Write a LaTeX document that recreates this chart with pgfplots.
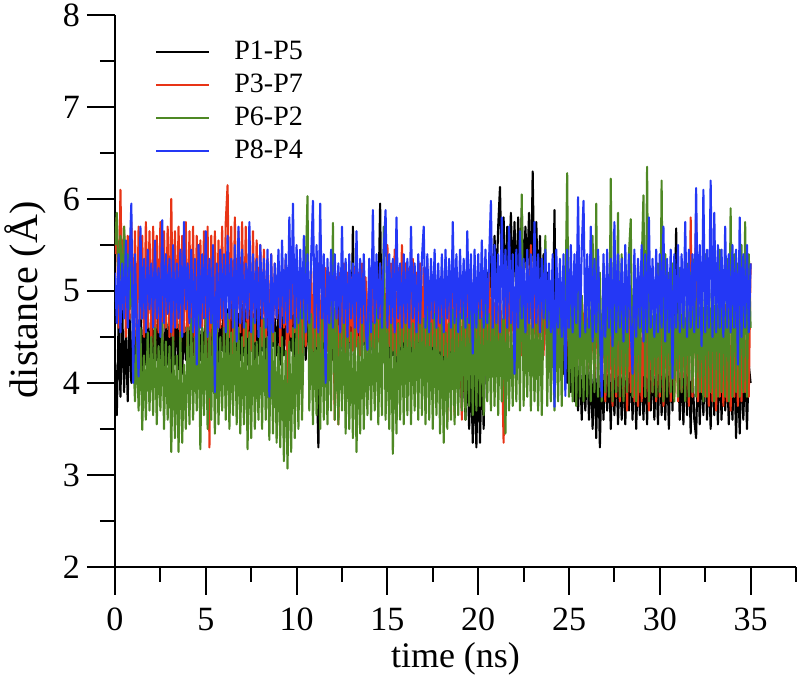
\documentclass[border=0pt]{standalone}
\usepackage{pgfplots}
\pgfplotsset{compat=1.18}
\usepackage{fontspec}
\setmainfont{Liberation Serif}
\definecolor{cred}{RGB}{232,52,22}
\definecolor{cgreen}{RGB}{78,136,36}
\definecolor{cblue}{RGB}{36,56,245}
\begin{document}
\begin{tikzpicture}
\begin{axis}[name=ax, scale only axis, width=340.5pt, height=276pt,
 xmin=0, xmax=37.5, ymin=2, ymax=8,
 axis x line*=bottom, axis y line*=left, axis line style={line width=1pt, -},
 xtick={0,5,...,35}, minor xtick={2.5,7.5,...,37.5},
 ytick={2,...,8}, minor ytick={2.5,3.5,...,7.5},
 tick align=outside, major tick length=14pt, minor tick length=7.5pt,
 every tick/.style={black, line width=1pt},
 ticklabel style={font=\fontsize{17}{20}\selectfont},
 xticklabel style={yshift=-3pt},
 /pgf/number format/assume math mode=true,
 xlabel={time (ns)}, ylabel={distance (Å)},
 every axis x label/.style={at={(axis description cs:0.5,-0.167)}, anchor=center, font=\fontsize{18}{21}\selectfont},
 every axis y label/.style={at={(axis description cs:-0.132,0.484)}, anchor=center, rotate=90, font=\fontsize{20}{23}\selectfont},
 legend style={draw=none, fill=none, at={(0.0587,0.959)}, anchor=north west, inner sep=0pt,
   font=\fontsize{14}{16}\selectfont, row sep=3pt,
   nodes={inner sep=1pt, text height=9.5pt, text depth=2pt},
   /tikz/every odd column/.append style={column sep=11pt}},
 legend cell align=left,
 legend image code/.code={\draw[#1, line width=1pt] (0pt,0pt) -- (26.5pt,0pt);},
]
\addplot[black, line width=1.05pt, line join=round] table[row sep=\\, header=false, x expr=\coordindex/10, y index=0] {
4.20\\3.65\\4.70\\3.85\\4.80\\3.90\\4.60\\3.80\\4.75\\4.00\\
4.70\\4.10\\4.65\\4.20\\4.80\\4.05\\4.70\\4.20\\4.75\\4.10\\
4.80\\4.15\\4.70\\4.25\\4.85\\4.20\\4.60\\4.10\\4.75\\4.20\\
4.80\\4.05\\4.70\\4.20\\4.85\\4.15\\4.75\\4.10\\4.65\\4.25\\
4.80\\4.20\\4.70\\4.30\\4.85\\4.15\\4.75\\4.25\\4.60\\4.30\\
4.75\\4.20\\4.85\\4.30\\4.70\\4.25\\4.80\\4.20\\4.65\\4.35\\
4.90\\4.25\\4.80\\4.30\\4.95\\4.20\\4.85\\4.30\\4.75\\4.25\\
4.85\\4.30\\4.80\\4.20\\4.90\\4.35\\4.75\\4.25\\4.85\\4.30\\
4.80\\4.35\\4.70\\4.25\\4.85\\4.30\\4.75\\4.40\\4.70\\4.30\\
4.80\\4.20\\4.75\\4.30\\4.85\\4.25\\4.70\\4.35\\4.80\\4.20\\
4.85\\4.30\\4.75\\4.20\\4.90\\4.25\\4.80\\4.30\\4.70\\4.20\\
4.80\\4.10\\3.30\\4.60\\4.15\\4.75\\4.20\\4.70\\4.30\\4.85\\
4.25\\4.80\\4.15\\4.90\\4.30\\4.75\\4.20\\4.85\\4.30\\4.80\\
4.20\\5.70\\4.30\\4.90\\4.25\\4.85\\4.35\\4.80\\4.20\\4.90\\
4.30\\4.85\\4.25\\4.95\\4.30\\4.80\\5.95\\4.20\\4.90\\4.30\\
4.85\\4.25\\4.90\\4.30\\4.80\\4.20\\4.95\\4.35\\4.85\\4.25\\
4.90\\4.30\\4.80\\4.20\\4.85\\4.30\\4.90\\4.25\\4.80\\4.30\\
4.85\\4.20\\4.90\\4.30\\4.75\\4.25\\4.85\\4.30\\4.80\\4.20\\
4.75\\4.10\\4.85\\4.00\\4.70\\4.05\\4.80\\3.90\\4.60\\3.85\\
4.50\\3.70\\4.40\\3.60\\4.30\\3.50\\4.20\\3.35\\4.10\\3.30\\
4.20\\3.35\\4.30\\3.50\\4.60\\5.20\\4.80\\5.50\\4.90\\5.60\\
5.00\\5.70\\6.13\\5.10\\5.80\\4.90\\5.70\\5.20\\5.85\\5.00\\
5.75\\4.90\\5.80\\5.10\\5.90\\5.00\\5.70\\5.20\\5.85\\4.95\\
6.30\\5.00\\5.75\\4.90\\5.60\\4.70\\5.40\\4.60\\5.20\\4.50\\
5.00\\4.40\\5.88\\4.30\\4.90\\4.20\\4.80\\4.10\\4.70\\4.00\\
4.60\\3.90\\4.50\\3.80\\4.40\\3.70\\4.30\\3.60\\4.20\\3.70\\
4.30\\3.60\\4.20\\3.50\\4.25\\3.40\\4.30\\3.30\\4.20\\3.60\\
4.30\\3.70\\4.20\\3.50\\4.35\\3.65\\4.25\\3.55\\4.30\\3.60\\
4.20\\3.55\\4.30\\3.70\\4.25\\3.60\\4.35\\3.50\\4.20\\3.65\\
4.30\\3.60\\4.25\\3.55\\4.40\\3.70\\4.30\\3.60\\4.20\\3.55\\
4.35\\3.65\\4.25\\3.60\\4.30\\3.50\\4.40\\3.70\\4.60\\5.68\\
4.30\\3.60\\4.25\\3.55\\4.35\\3.65\\4.30\\3.45\\4.20\\3.60\\
3.40\\4.30\\3.55\\4.25\\3.65\\4.35\\3.60\\4.20\\3.50\\4.30\\
3.65\\4.25\\3.55\\4.35\\3.60\\4.30\\3.70\\4.20\\3.55\\4.25\\
3.60\\4.30\\3.40\\4.20\\3.45\\4.25\\3.60\\4.30\\3.50\\4.20\\
4.00\\
};
\addlegendentry{P1-P5}
\addplot[cred, line width=1.05pt, line join=round] table[row sep=\\, header=false, x expr=\coordindex/10, y index=0] {
5.40\\5.80\\4.60\\6.10\\4.80\\5.70\\4.50\\5.60\\4.70\\5.75\\
4.60\\5.65\\4.40\\5.70\\4.70\\5.60\\4.50\\5.75\\4.60\\5.65\\
4.40\\5.70\\4.30\\5.60\\4.55\\5.75\\4.45\\5.65\\4.60\\5.70\\
4.50\\6.00\\4.40\\5.65\\4.60\\5.70\\4.45\\5.60\\4.55\\5.75\\
4.30\\5.65\\4.50\\5.70\\4.20\\5.60\\4.45\\5.55\\4.60\\5.65\\
4.40\\5.70\\3.30\\5.60\\4.50\\5.65\\4.35\\5.55\\4.60\\5.70\\
4.40\\5.75\\6.15\\4.50\\5.70\\4.30\\5.80\\4.45\\5.65\\4.55\\
5.75\\4.40\\5.70\\4.50\\5.60\\4.35\\5.65\\4.45\\5.55\\4.60\\
5.50\\4.40\\5.45\\4.50\\5.35\\4.30\\5.40\\4.45\\5.30\\4.70\\
5.30\\4.40\\5.25\\4.60\\5.35\\3.80\\5.20\\4.50\\5.30\\4.55\\
5.25\\4.30\\5.20\\3.90\\5.30\\4.40\\5.15\\4.50\\5.25\\4.35\\
5.20\\4.40\\5.30\\4.20\\5.15\\4.45\\5.25\\4.35\\5.20\\4.50\\
5.25\\3.60\\5.15\\3.55\\5.20\\4.40\\5.30\\4.25\\5.20\\4.45\\
5.15\\4.35\\5.25\\4.40\\5.20\\4.30\\5.30\\4.45\\5.15\\4.35\\
5.25\\4.40\\5.35\\4.30\\5.20\\4.45\\5.30\\4.35\\5.25\\4.10\\
5.50\\4.40\\5.30\\4.35\\5.45\\4.30\\5.25\\4.40\\5.50\\4.45\\
5.30\\4.35\\5.25\\4.40\\5.35\\4.30\\5.20\\4.45\\5.30\\4.40\\
5.25\\4.35\\5.30\\4.20\\5.20\\4.40\\5.25\\4.30\\5.15\\4.35\\
5.20\\4.30\\5.25\\3.60\\5.15\\4.35\\5.20\\3.65\\5.25\\4.30\\
5.20\\3.60\\5.15\\4.35\\5.25\\4.20\\5.20\\4.30\\5.15\\4.25\\
5.20\\4.30\\5.10\\4.25\\5.15\\4.20\\5.20\\4.35\\5.10\\4.25\\
5.15\\4.20\\5.10\\4.30\\3.35\\5.20\\4.25\\5.10\\4.30\\5.15\\
4.20\\5.10\\4.25\\5.15\\4.30\\5.05\\4.20\\5.10\\4.25\\5.50\\
4.30\\5.10\\4.20\\5.05\\4.25\\5.15\\4.30\\5.10\\4.20\\5.05\\
4.25\\5.10\\4.20\\5.00\\4.30\\5.05\\4.20\\5.10\\4.25\\5.00\\
4.20\\5.05\\4.25\\5.00\\4.15\\5.10\\4.20\\4.95\\4.25\\5.00\\
4.10\\4.90\\4.20\\4.85\\4.05\\4.95\\4.15\\4.80\\4.10\\4.90\\
3.80\\4.70\\3.90\\4.80\\3.75\\4.65\\3.85\\4.75\\3.80\\4.70\\
3.85\\4.75\\3.70\\4.80\\3.90\\4.65\\3.80\\4.70\\3.75\\4.85\\
3.80\\4.70\\3.85\\4.75\\3.70\\4.80\\3.90\\4.65\\3.80\\4.75\\
3.85\\4.70\\3.75\\4.80\\3.90\\4.75\\3.80\\4.65\\3.85\\4.70\\
3.80\\4.75\\3.90\\4.70\\3.85\\4.80\\3.75\\5.80\\3.85\\4.70\\
5.82\\3.80\\4.75\\3.90\\4.70\\3.85\\4.80\\3.75\\4.70\\3.80\\
4.75\\3.70\\4.80\\3.85\\4.70\\3.75\\4.85\\3.80\\4.75\\3.70\\
4.80\\3.85\\4.70\\3.75\\4.85\\3.80\\4.75\\3.90\\4.80\\3.85\\
5.30\\
};
\addlegendentry{P3-P7}
\addplot[cgreen, line width=1.05pt, line join=round] table[row sep=\\, header=false, x expr=\coordindex/10, y index=0] {
5.50\\5.85\\5.00\\5.60\\4.90\\5.70\\5.20\\5.40\\4.80\\5.30\\
4.40\\3.80\\4.50\\3.70\\4.60\\3.49\\4.30\\3.60\\4.55\\3.70\\
4.50\\3.65\\4.60\\3.55\\4.40\\3.70\\4.65\\3.50\\4.45\\3.60\\
4.40\\3.25\\4.50\\3.40\\4.30\\3.25\\4.55\\3.35\\4.20\\3.50\\
4.60\\3.55\\4.70\\3.60\\4.50\\3.70\\4.75\\3.28\\4.60\\3.65\\
4.70\\3.50\\4.55\\3.60\\4.80\\3.45\\4.65\\3.55\\4.50\\3.70\\
4.60\\3.60\\4.75\\3.50\\4.55\\3.65\\4.80\\3.55\\4.60\\3.45\\
4.50\\3.55\\4.65\\3.28\\4.55\\3.40\\4.70\\3.50\\4.45\\3.60\\
4.60\\3.50\\4.70\\3.60\\4.50\\3.38\\4.75\\3.45\\4.55\\3.35\\
4.40\\3.30\\4.50\\3.15\\4.35\\3.07\\4.45\\3.25\\4.60\\3.40\\
4.70\\3.50\\4.80\\3.60\\4.65\\5.20\\6.03\\3.70\\4.75\\3.55\\
4.60\\3.65\\4.70\\3.50\\4.80\\3.60\\4.65\\3.55\\4.75\\3.70\\
5.74\\3.60\\4.70\\3.55\\4.60\\3.70\\4.80\\3.45\\4.65\\3.50\\
4.55\\3.40\\4.60\\3.25\\4.50\\3.45\\4.70\\3.50\\4.60\\3.65\\
4.75\\3.60\\4.65\\3.70\\4.80\\3.55\\4.70\\3.65\\5.70\\3.60\\
4.60\\3.50\\4.70\\3.23\\4.55\\3.45\\4.65\\3.60\\4.75\\3.55\\
4.70\\3.65\\4.80\\3.55\\4.65\\3.70\\4.75\\3.60\\4.85\\3.65\\
4.70\\3.55\\4.80\\3.60\\4.65\\3.50\\4.75\\3.65\\4.60\\3.45\\
4.70\\3.35\\4.55\\3.50\\4.65\\3.60\\4.80\\3.55\\4.70\\3.65\\
4.75\\3.70\\4.85\\3.60\\4.70\\3.75\\4.80\\3.65\\4.90\\3.70\\
4.80\\3.75\\4.70\\3.65\\4.85\\3.80\\4.75\\3.70\\4.90\\3.75\\
4.85\\3.65\\4.75\\3.80\\4.90\\3.45\\4.80\\3.70\\4.70\\3.75\\
4.85\\3.80\\4.95\\3.70\\6.05\\3.75\\4.80\\3.85\\4.90\\3.70\\
4.85\\3.80\\4.75\\3.70\\4.90\\3.65\\4.80\\5.60\\3.75\\4.85\\
3.80\\4.95\\3.70\\4.85\\3.80\\4.90\\3.75\\5.00\\4.80\\6.28\\
3.85\\4.90\\3.80\\5.00\\3.75\\5.10\\3.85\\4.95\\3.80\\5.05\\
3.85\\5.10\\3.80\\5.60\\3.90\\5.95\\3.85\\5.20\\3.80\\5.30\\
3.90\\5.10\\3.85\\6.22\\3.80\\5.20\\3.90\\5.85\\3.85\\5.40\\
3.80\\5.25\\3.90\\5.40\\5.78\\3.85\\5.20\\3.80\\5.30\\3.90\\
5.25\\6.04\\3.85\\6.35\\3.80\\5.20\\3.90\\5.10\\3.85\\5.30\\
3.90\\6.20\\3.80\\5.40\\3.85\\5.20\\3.90\\5.30\\3.80\\5.15\\
3.85\\5.25\\3.90\\5.10\\3.80\\5.30\\3.85\\5.20\\3.90\\5.35\\
3.85\\5.30\\3.90\\5.20\\3.80\\5.40\\3.85\\5.25\\3.90\\5.35\\
3.80\\5.30\\3.85\\5.45\\3.90\\5.20\\3.85\\5.35\\3.80\\5.90\\
3.85\\5.40\\3.90\\5.30\\3.85\\5.50\\3.90\\5.75\\3.85\\5.40\\
4.60\\
};
\addlegendentry{P6-P2}
\addplot[cblue, line width=1.05pt, line join=round] table[row sep=\\, header=false, x expr=\coordindex/10, y index=0] {
5.20\\4.65\\5.40\\4.55\\5.30\\4.70\\5.55\\4.60\\5.35\\5.95\\
4.00\\5.40\\4.60\\4.07\\5.70\\4.70\\5.35\\4.55\\5.45\\4.80\\
5.30\\4.60\\5.55\\4.70\\5.25\\4.50\\5.77\\4.65\\5.40\\4.75\\
5.35\\4.55\\5.50\\4.60\\5.30\\4.70\\5.45\\4.50\\5.75\\4.80\\
5.30\\4.65\\5.45\\4.55\\5.35\\4.20\\5.50\\4.60\\5.40\\4.70\\
5.65\\4.50\\5.35\\4.65\\5.50\\3.90\\5.30\\4.60\\5.45\\4.70\\
5.40\\4.55\\5.60\\4.70\\5.35\\4.60\\5.50\\4.45\\5.70\\4.65\\
5.45\\4.60\\5.30\\4.70\\5.75\\4.55\\5.40\\4.65\\5.35\\4.50\\
5.50\\4.70\\5.35\\4.60\\5.45\\3.85\\5.40\\4.55\\5.30\\4.70\\
5.45\\4.60\\5.55\\4.65\\5.40\\4.55\\5.80\\4.70\\5.95\\4.60\\
5.50\\4.65\\5.45\\4.70\\5.60\\4.55\\5.40\\4.65\\5.35\\5.98\\
4.60\\5.50\\4.55\\5.95\\4.70\\5.40\\4.00\\5.35\\4.65\\5.45\\
4.60\\5.40\\4.70\\5.30\\4.55\\5.70\\4.65\\5.35\\4.50\\5.40\\
4.70\\5.30\\4.60\\5.65\\4.55\\5.35\\4.65\\5.40\\4.60\\4.36\\
5.35\\4.55\\5.88\\4.65\\5.40\\4.70\\5.30\\4.60\\5.45\\5.88\\
4.60\\5.40\\4.65\\5.35\\4.55\\5.80\\4.70\\5.30\\4.60\\5.40\\
4.65\\5.35\\4.60\\5.70\\4.70\\5.30\\4.55\\5.40\\4.65\\5.35\\
5.70\\4.60\\5.40\\4.55\\5.35\\4.70\\5.45\\4.60\\5.30\\4.65\\
5.40\\4.55\\5.45\\4.70\\5.35\\4.60\\5.75\\4.65\\5.40\\4.55\\
5.45\\4.70\\5.35\\4.60\\5.65\\4.65\\5.40\\4.32\\5.45\\4.60\\
5.40\\4.70\\5.55\\4.60\\5.45\\4.65\\5.35\\5.98\\4.60\\5.50\\
4.65\\5.40\\4.55\\5.80\\4.70\\5.45\\4.60\\5.70\\4.65\\5.40\\
4.10\\5.45\\4.60\\5.65\\4.70\\5.35\\4.55\\5.45\\4.65\\5.40\\
4.60\\5.75\\4.65\\5.40\\4.55\\5.35\\4.70\\5.45\\4.60\\5.30\\
4.55\\5.40\\3.74\\5.45\\4.60\\5.35\\4.50\\5.40\\3.86\\5.45\\
4.60\\5.50\\4.55\\5.40\\4.65\\6.02\\4.50\\5.45\\5.98\\4.55\\
5.40\\4.60\\5.70\\4.45\\5.35\\4.55\\5.45\\4.60\\3.85\\5.40\\
4.50\\5.45\\4.60\\5.35\\4.40\\5.75\\4.55\\5.40\\4.60\\5.35\\
4.45\\5.50\\4.55\\5.40\\4.60\\4.10\\5.45\\4.50\\5.35\\4.60\\
5.50\\4.45\\5.40\\4.55\\5.80\\4.60\\5.35\\4.50\\5.45\\4.55\\
5.40\\4.60\\5.70\\4.45\\5.35\\4.55\\5.45\\4.05\\5.40\\4.60\\
5.50\\4.55\\5.40\\4.60\\5.75\\4.50\\5.45\\4.60\\5.40\\4.55\\
6.12\\4.60\\5.50\\4.40\\6.10\\4.55\\5.45\\4.60\\6.20\\4.50\\
5.85\\4.55\\5.50\\4.60\\5.45\\4.50\\5.70\\4.60\\5.40\\4.55\\
5.50\\4.60\\5.45\\4.20\\5.80\\4.50\\5.40\\4.60\\5.50\\4.55\\
5.30\\
};
\addlegendentry{P8-P4}
\end{axis}
\pgfresetboundingbox
\path[use as bounding box] ([xshift=-57.5pt,yshift=-57.5pt]ax.south west) rectangle ([xshift=2pt,yshift=7.5pt]ax.north east);
\end{tikzpicture}
\end{document}
